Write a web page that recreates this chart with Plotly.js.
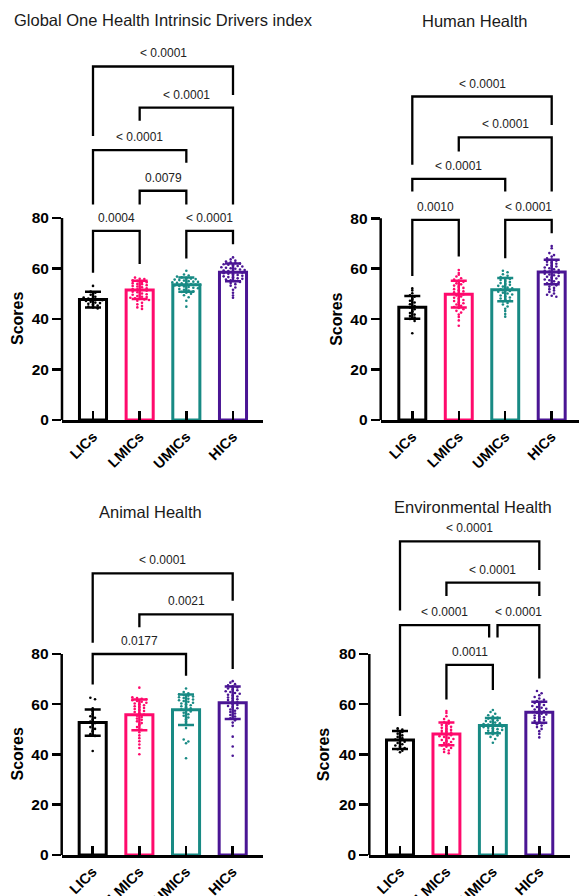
<!DOCTYPE html>
<html><head><meta charset="utf-8">
<script src="https://cdn.plot.ly/plotly-3.0.1.min.js"></script>
<style>html,body{margin:0;padding:0;background:#fff}#chart{width:579px;height:896px}</style>
</head><body><div id="chart"></div>
<script>
// ---------------- DATA ----------------
const categories = ['LICs', 'LMICs', 'UMICs', 'HICs'];
const panelTitles = ['Global One Health Intrinsic Drivers index', 'Human Health', 'Animal Health', 'Environmental Health'];
const yTickValues = [0, 20, 40, 60, 80];
const yAxisTitle = 'Scores';

// Panel 1: Global One Health Intrinsic Drivers index
const gohiMeans = [47.7, 51.5, 53.6, 58.5];
const gohiSDs = [3.1, 3.6, 2.85, 3.5];
const gohiLICs = [53.1, 50.9, 50.4, 49.6, 48.8, 48.5, 48.1, 47.9, 47.6, 47.4, 47.1, 46.8, 46.5, 46.3, 46.0, 45.7, 45.3, 44.9, 44.6, 44.2];
const gohiLMICs = [56.4, 55.9, 55.8, 55.3, 55.1, 54.7, 54.6, 54.2, 53.9, 53.8, 53.4, 53.1, 52.9, 52.6, 52.2, 51.9, 51.8, 51.5, 51.2, 50.8, 50.6, 50.1, 49.8, 49.6, 49.1, 48.8, 48.7, 48.4, 48.2, 47.9, 47.7, 47.5, 47.2, 46.4, 45.8, 45.1, 44.6, 44.0];
const gohiUMICs = [59.1, 57.6, 57.2, 56.8, 56.5, 56.3, 56.0, 55.8, 55.6, 55.4, 55.2, 55.0, 54.8, 54.7, 54.5, 54.3, 54.1, 54.0, 53.8, 53.6, 53.5, 53.3, 53.1, 52.9, 52.7, 52.4, 52.2, 51.9, 51.6, 51.3, 51.0, 50.7, 50.4, 50.0, 49.4, 48.6, 47.2, 44.9];
const gohiHICs = [64.4, 63.6, 63.1, 62.8, 62.5, 62.2, 62.0, 61.7, 61.5, 61.2, 61.0, 60.8, 60.5, 60.3, 60.1, 59.9, 59.6, 59.4, 59.2, 59.0, 58.8, 58.5, 58.3, 58.1, 57.9, 57.6, 57.4, 57.1, 56.9, 56.6, 56.4, 56.1, 55.9, 55.6, 55.3, 55.0, 54.7, 54.3, 53.8, 53.2, 52.5, 51.6, 50.4, 49.3, 48.4];

// Panel 2: Human Health
const humanMeans = [44.7, 49.9, 51.7, 58.7];
const humanSDs = [4.5, 5.3, 4.6, 4.9];
const humanLICs = [52.2, 51.4, 50.3, 49.5, 48.9, 48.0, 47.3, 46.6, 45.9, 45.2, 44.6, 43.9, 43.1, 42.4, 41.8, 41.2, 40.6, 40.1, 39.3, 34.4];
const humanLMICs = [59.5, 58.3, 57.6, 56.9, 56.2, 55.7, 55.3, 54.8, 54.2, 53.8, 53.3, 52.8, 52.4, 51.9, 51.5, 51.0, 50.6, 50.2, 49.8, 49.4, 49.0, 48.5, 48.1, 47.6, 47.2, 46.7, 46.3, 45.8, 45.3, 44.8, 44.4, 43.9, 43.3, 42.6, 41.8, 40.9, 39.5, 37.4];
const humanUMICs = [59.2, 58.6, 57.8, 57.2, 56.7, 56.3, 55.9, 55.5, 55.1, 54.7, 54.3, 53.9, 53.6, 53.2, 52.9, 52.5, 52.2, 51.8, 51.5, 51.2, 50.9, 50.5, 50.2, 49.8, 49.4, 49.0, 48.6, 48.2, 47.8, 47.4, 47.0, 46.4, 45.8, 45.0, 44.1, 43.2, 42.0, 41.0];
const humanHICs = [69.0, 68.1, 66.2, 65.4, 64.8, 64.1, 63.6, 63.2, 62.8, 62.4, 62.0, 61.6, 61.2, 60.9, 60.5, 60.2, 59.8, 59.5, 59.2, 58.9, 58.6, 58.3, 58.0, 57.7, 57.4, 57.1, 56.8, 56.4, 56.1, 55.7, 55.4, 55.0, 54.6, 54.2, 53.8, 53.4, 52.9, 52.4, 51.9, 51.4, 50.8, 50.2, 49.7, 49.3, 48.9];

// Panel 3: Animal Health
const animalMeans = [52.7, 55.8, 57.8, 60.6];
const animalSDs = [5.2, 6.1, 6.1, 6.5];
const animalLICs = [62.6, 62.0, 58.4, 57.3, 56.1, 55.2, 54.6, 53.8, 53.1, 52.5, 51.7, 50.9, 50.2, 49.3, 48.1, 47.4, 41.4];
const animalLMICs = [66.6, 62.8, 62.5, 62.2, 62.0, 61.6, 61.3, 61.0, 60.6, 60.3, 60.0, 59.6, 59.2, 58.9, 58.5, 58.1, 57.7, 57.3, 56.9, 56.4, 55.9, 55.4, 54.9, 54.3, 53.8, 53.2, 52.5, 51.8, 50.9, 49.8, 48.9, 47.6, 46.5, 45.3, 44.0, 42.6, 40.1];
const animalUMICs = [66.3, 64.9, 64.4, 64.0, 63.7, 63.4, 63.1, 62.8, 62.5, 62.2, 61.9, 61.6, 61.3, 61.0, 60.6, 60.3, 60.0, 59.6, 59.2, 58.8, 58.4, 58.0, 57.6, 57.1, 56.6, 56.0, 55.4, 54.7, 53.9, 53.0, 51.8, 50.5, 46.0, 45.2, 44.5, 38.5];
const animalHICs = [69.2, 68.6, 68.0, 67.5, 67.1, 66.7, 66.3, 65.9, 65.6, 65.2, 64.9, 64.5, 64.2, 63.8, 63.5, 63.1, 62.7, 62.4, 62.0, 61.7, 61.3, 60.9, 60.5, 60.1, 59.7, 59.3, 58.9, 58.4, 57.9, 57.4, 56.9, 56.3, 55.7, 55.1, 54.4, 53.6, 52.7, 51.4, 47.1, 43.2, 39.5];

// Panel 4: Environmental Health
const envMeans = [45.8, 48.2, 51.5, 56.8];
const envSDs = [3.6, 4.5, 3.0, 4.2];
const envLICs = [50.4, 49.9, 49.6, 49.0, 48.3, 47.6, 47.0, 46.5, 46.0, 45.6, 45.1, 44.6, 44.1, 43.6, 43.1, 42.6, 42.1, 41.5, 40.9];
const envLMICs = [57.3, 56.5, 55.2, 54.1, 53.4, 52.8, 52.3, 51.8, 51.4, 51.0, 50.6, 50.2, 49.8, 49.4, 49.1, 48.7, 48.4, 48.0, 47.7, 47.3, 47.0, 46.6, 46.2, 45.8, 45.4, 45.0, 44.6, 44.1, 43.6, 43.1, 42.6, 42.1, 41.6, 41.0, 40.5];
const envUMICs = [57.7, 56.9, 56.2, 55.6, 55.1, 54.7, 54.3, 53.9, 53.6, 53.3, 53.0, 52.7, 52.4, 52.1, 51.9, 51.6, 51.4, 51.1, 50.9, 50.6, 50.4, 50.1, 49.8, 49.5, 49.2, 48.9, 48.5, 48.1, 47.6, 47.0, 46.2, 44.7];
const envHICs = [65.3, 64.4, 63.6, 62.9, 62.3, 61.8, 61.3, 60.9, 60.5, 60.1, 59.7, 59.3, 58.9, 58.6, 58.2, 57.9, 57.5, 57.2, 56.9, 56.5, 56.2, 55.9, 55.5, 55.2, 54.8, 54.5, 54.1, 53.7, 53.3, 52.9, 52.5, 52.0, 51.5, 50.9, 50.2, 49.3, 48.2, 46.8];

// Significance comparisons: [groupA, groupB, p-value label]
const gohiPairs = [[0, 3, '< 0.0001'], [1, 3, '< 0.0001'], [0, 2, '< 0.0001'], [1, 2, '0.0079'], [0, 1, '0.0004'], [2, 3, '< 0.0001']];
const humanPairs = [[0, 3, '< 0.0001'], [1, 3, '< 0.0001'], [0, 2, '< 0.0001'], [0, 1, '0.0010'], [2, 3, '< 0.0001']];
const animalPairs = [[0, 3, '< 0.0001'], [1, 3, '0.0021'], [0, 2, '0.0177']];
const envPairs = [[0, 3, '< 0.0001'], [1, 3, '< 0.0001'], [0, 2, '< 0.0001'], [2, 3, '< 0.0001'], [1, 2, '0.0011']];

// ---------------- STYLE / LAYOUT ----------------
const colors = ['#000000', '#FF0A6C', '#188A84', '#4A1594'];
const FONT = 'Liberation Sans, Arial, Helvetica, sans-serif';
const W = 579, H = 896;

// bracket geometry (height, left-leg end, right-leg end, x nudges) per comparison, in axis units
const bracketGeo = [
  [[140.0, 112.5, 128.7], [123.7, 118.5, 85.3], [106.9, 85.3, 101.9], [90.8, 85.3, 85.3], [74.9, 58.3, 61.8], [74.9, 64.0, 69.6]],
  [[128.3, 101.2, 117.0], [112.1, 106.5, 90.6], [95.6, 90.6, 90.6], [79.4, 57.1, 64.8], [79.4, 64.2, 74.1]],
  [[112.1, 84.5, 101.2], [95.8, 90.6, 74.0], [80.0, 67.9, 71.3]],
  [[124.8, 97.3, 113.4], [108.4, 103.1, 103.1], [91.5, 55.3, 86.6, 0, -0.08], [91.5, 86.6, 70.3, 0.1, 0], [75.7, 61.9, 65.7]]
];

const panelGeo = [
  {xl: 62, xr: 263, c0: 93, c3: 233, y0: 420, y80: 218, ymax: 150, tx: 163.5, ty: 20, sx: 17},
  {xl: 380.7, xr: 579, c0: 412.3, c3: 551.7, y0: 420, y80: 218.3, ymax: 150, tx: 474, ty: 20.7, sx: 335.7},
  {xl: 61.7, xr: 263, c0: 92.7, c3: 232.7, y0: 855, y80: 654, ymax: 130, tx: 150, ty: 512.3, sx: 17},
  {xl: 369.3, xr: 570, c0: 400, c3: 539.3, y0: 855, y80: 654, ymax: 130, tx: 472.7, ty: 506.7, sx: 323.7}
];

const panels = [
  {means: gohiMeans, sds: gohiSDs, pts: [gohiLICs, gohiLMICs, gohiUMICs, gohiHICs], pairs: gohiPairs},
  {means: humanMeans, sds: humanSDs, pts: [humanLICs, humanLMICs, humanUMICs, humanHICs], pairs: humanPairs},
  {means: animalMeans, sds: animalSDs, pts: [animalLICs, animalLMICs, animalUMICs, animalHICs], pairs: animalPairs},
  {means: envMeans, sds: envSDs, pts: [envLICs, envLMICs, envUMICs, envHICs], pairs: envPairs}
];

// deterministic beeswarm-style column layout (Prism-like rows)
function swarmX(vals, center) {
  const rowH = 1.2, dx = 0.1;
  const rows = {};
  vals.forEach((v, i) => {
    const r = Math.round(v / rowH);
    (rows[r] = rows[r] || []).push(i);
  });
  const xs = new Array(vals.length);
  Object.values(rows).forEach(idx => {
    const n = idx.length;
    idx.forEach((i, j) => { xs[i] = center + (j - (n - 1) / 2) * dx; });
  });
  return xs;
}

const traces = [];
const shapes = [];
const annotations = [];
const layout = {
  width: W, height: H,
  margin: {l: 0, r: 0, t: 0, b: 0},
  paper_bgcolor: '#fff', plot_bgcolor: 'rgba(0,0,0,0)',
  showlegend: false,
  barmode: 'overlay',
  font: {family: FONT, color: '#000'}
};

panels.forEach((p, k) => {
  const g = panelGeo[k];
  const n = k === 0 ? '' : String(k + 1);
  const xa = 'x' + n, ya = 'y' + n;
  const sp = (g.c3 - g.c0) / 3;
  const kpx = (g.y0 - g.y80) / 80;
  layout['xaxis' + n] = {
    domain: [g.xl / W, g.xr / W],
    range: [(g.xl - g.c0) / sp, (g.xr - g.c0) / sp],
    anchor: ya,
    showline: true, linecolor: '#000', linewidth: 2.5,
    ticks: 'inside', ticklen: 9, tickwidth: 2.5, tickcolor: '#000',
    tickvals: [0, 1, 2, 3], ticktext: categories,
    tickangle: -45,
    tickfont: {family: FONT, size: 14.5, weight: 700, color: '#000'},
    showgrid: false, zeroline: false, fixedrange: true
  };
  layout['yaxis' + n] = {
    domain: [1 - g.y0 / H, 1 - (g.y0 - g.ymax * kpx) / H],
    range: [0, g.ymax],
    anchor: xa,
    showline: false,
    ticks: 'outside', ticklen: 9, tickwidth: 2.5, tickcolor: '#000',
    tickvals: yTickValues,
    tickfont: {family: FONT, size: 15.5, weight: 700, color: '#000'},
    showgrid: false, zeroline: false, fixedrange: true
  };
  // y axis line from 0 to 80
  shapes.push({type: 'line', xref: xa + ' domain', yref: ya, x0: 0, x1: 0, y0: 0, y1: 80,
    line: {color: '#000', width: 2.5}});

  categories.forEach((c, i) => {
    traces.push({
      type: 'bar', x: [i], y: [p.means[i]], width: 0.58,
      xaxis: xa, yaxis: ya, hoverinfo: 'skip',
      marker: {color: '#fff', line: {color: colors[i], width: 3}},
      error_y: {type: 'data', array: [p.sds[i]], visible: true, color: colors[i], thickness: 2.5, width: 8}
    });
  });
  categories.forEach((c, i) => {
    traces.push({
      type: 'scatter', mode: 'markers', x: swarmX(p.pts[i], i), y: p.pts[i],
      xaxis: xa, yaxis: ya, hoverinfo: 'skip',
      marker: {color: colors[i], size: 2.6, line: {width: 0}}
    });
  });

  p.pairs.forEach((pr, j) => {
    const bg = bracketGeo[k][j];
    const xA = pr[0] + (bg[3] || 0), xB = pr[1] + (bg[4] || 0);
    shapes.push({
      type: 'path', xref: xa, yref: ya,
      path: `M ${xA},${bg[1]} L ${xA},${bg[0]} L ${xB},${bg[0]} L ${xB},${bg[2]}`,
      line: {color: '#000', width: 2.3}
    });
    annotations.push({
      xref: xa, yref: ya, x: (xA + xB) / 2, y: bg[0], yanchor: 'bottom', yshift: 4,
      text: pr[2], showarrow: false,
      font: {family: FONT, size: 12, color: '#222'}
    });
  });

  annotations.push({
    xref: 'paper', yref: 'paper', x: g.tx / W, y: 1 - g.ty / H, xanchor: 'center', yanchor: 'middle',
    text: panelTitles[k], showarrow: false, font: {family: FONT, size: 16.5, color: '#1a1a1a'}
  });
  annotations.push({
    xref: 'paper', yref: ya, x: g.sx / W, y: 40, xanchor: 'center', yanchor: 'middle',
    text: yAxisTitle, textangle: -90, showarrow: false,
    font: {family: FONT, size: 16, weight: 700, color: '#000'}
  });
});

layout.shapes = shapes;
layout.annotations = annotations;

Plotly.newPlot('chart', traces, layout, {displayModeBar: false, staticPlot: true});
</script>
</body></html>
